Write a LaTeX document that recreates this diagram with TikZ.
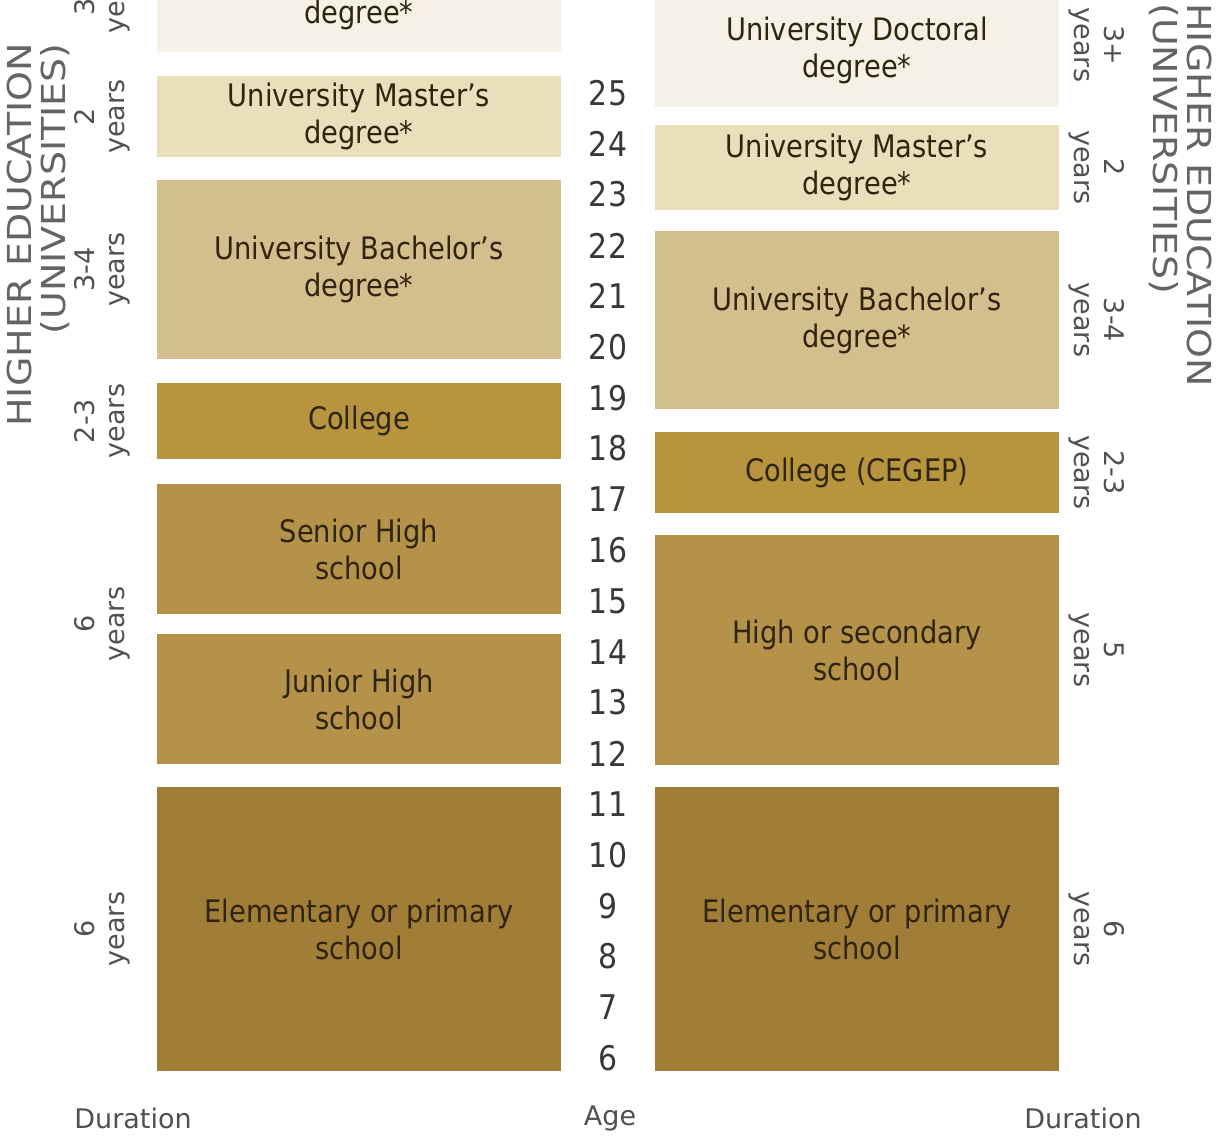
\documentclass[tikz,border=0pt]{standalone}
\usepackage{fontspec}
\setmainfont{DejaVu Sans}
\newfontfamily\narrowfont{DejaVu Sans}[FakeStretch=0.88]
\newfontfamily\widefont{DejaVu Sans}[FakeStretch=1.15]
\usepackage{xcolor}
\definecolor{cDoc}{RGB}{246,241,231}
\definecolor{cMas}{RGB}{235,222,186}
\definecolor{cBac}{RGB}{211,191,141}
\definecolor{cCol}{RGB}{183,149,62}
\definecolor{cSec}{RGB}{180,146,74}
\definecolor{cEle}{RGB}{161,126,56}
\definecolor{boxtxt}{RGB}{48,36,14}
\definecolor{sidetxt}{RGB}{80,80,80}
\definecolor{headtxt}{RGB}{100,100,100}

\begin{document}
\begin{tikzpicture}[x=0.5pt,y=-0.5pt]
    \def\px{0.5pt}
    \def\lx{359}
    \def\rx{857}
    \def\ldx{102}
    \def\rdx{1097}

    \tikzstyle{lvl}=[minimum width=404*\px,inner sep=0pt,align=center,text=boxtxt,font=\narrowfont\fontsize{15.5pt}{18.5pt}\selectfont]
    \tikzstyle{age}=[inner sep=0pt,text=black!78,font=\narrowfont\fontsize{17pt}{20pt}\selectfont]
    \tikzstyle{durl}=[inner sep=0pt,align=center,rotate=90,text=sidetxt,font=\fontsize{13.5pt}{15pt}\selectfont]
    \tikzstyle{durr}=[inner sep=0pt,align=center,rotate=-90,text=sidetxt,font=\fontsize{13.5pt}{15pt}\selectfont]
    \tikzstyle{head}=[inner sep=0pt,text=headtxt,font=\widefont\fontsize{16.5pt}{17pt}\selectfont]
    \tikzstyle{foot}=[inner sep=0pt,text=sidetxt,font=\fontsize{13.5pt}{16pt}\selectfont]

    \useasboundingbox (0,0) rectangle (1219,1139);
    \clip (0,0) rectangle (1219,1139);

    % left column
    \node[lvl,fill=cDoc,minimum height=112*\px] (lDoc) at (\lx,-4) {University Doctoral\\degree*};
    \node[lvl,fill=cMas,minimum height=81*\px] (lMas) at (\lx,116.5) {University Master’s\\degree*};
    \node[lvl,fill=cBac,minimum height=179*\px] (lBac) at (\lx,269.5) {University Bachelor’s\\degree*};
    \node[lvl,fill=cCol,minimum height=76*\px] (lCol) at (\lx,421) {College};
    \node[lvl,fill=cSec,minimum height=130*\px] (lSen) at (\lx,549) {Senior High\\school};
    \node[lvl,fill=cSec,minimum height=130*\px] (lJun) at (\lx,699) {Junior High\\school};
    \node[lvl,fill=cEle,minimum height=284*\px] (lEle) at (\lx,929) {Elementary or primary\\school};

    % right column
    \node[lvl,fill=cDoc,minimum height=114*\px] (rDoc) at (\rx,50) {University Doctoral\\degree*};
    \node[lvl,fill=cMas,minimum height=85*\px] (rMas) at (\rx,167.5) {University Master’s\\degree*};
    \node[lvl,fill=cBac,minimum height=178*\px] (rBac) at (\rx,320) {University Bachelor’s\\degree*};
    \node[lvl,fill=cCol,minimum height=81*\px] (rCol) at (\rx,472.5) {College (CEGEP)};
    \node[lvl,fill=cSec,minimum height=230*\px] (rSec) at (\rx,650) {High or secondary\\school};
    \node[lvl,fill=cEle,minimum height=284*\px] (rEle) at (\rx,929) {Elementary or primary\\school};

    % ages
    \foreach \a in {6,...,25}
        \node[age] (age\a) at (608,{93+(25-\a)*50.8}) {\a};

    % durations
    \node[durl] (lDurDoc) at (\ldx,-4) {3+\\years};
    \node[durl] (lDurMas) at (\ldx,116.5) {2\\years};
    \node[durl] (lDurBac) at (\ldx,269.5) {3-4\\years};
    \node[durl] (lDurCol) at (\ldx,421) {2-3\\years};
    \node[durl] (lDurSec) at (\ldx,624) {6\\years};
    \node[durl] (lDurEle) at (\ldx,929) {6\\years};

    \node[durr] (rDurDoc) at (\rdx,45) {3+\\years};
    \node[durr] (rDurMas) at (\rdx,167.5) {2\\years};
    \node[durr] (rDurBac) at (\rdx,320) {3-4\\years};
    \node[durr] (rDurCol) at (\rdx,472.5) {2-3\\years};
    \node[durr] (rDurSec) at (\rdx,650) {5\\years};
    \node[durr] (rDurEle) at (\rdx,929) {6\\years};

    % headings
    \node[head,rotate=90,align=right,anchor=east] (lHead) at (38,43) {HIGHER EDUCATION\\(UNIVERSITIES)};
    \node[head,rotate=-90,align=left,anchor=west] (rHead) at (1181,3) {HIGHER EDUCATION\\(UNIVERSITIES)};

    \node[foot] (lFoot) at (133,1118) {Duration};
    \node[foot] (aFoot) at (610,1118) {Age};
    \node[foot] (rFoot) at (1083,1118) {Duration};

\end{tikzpicture}
\end{document}
